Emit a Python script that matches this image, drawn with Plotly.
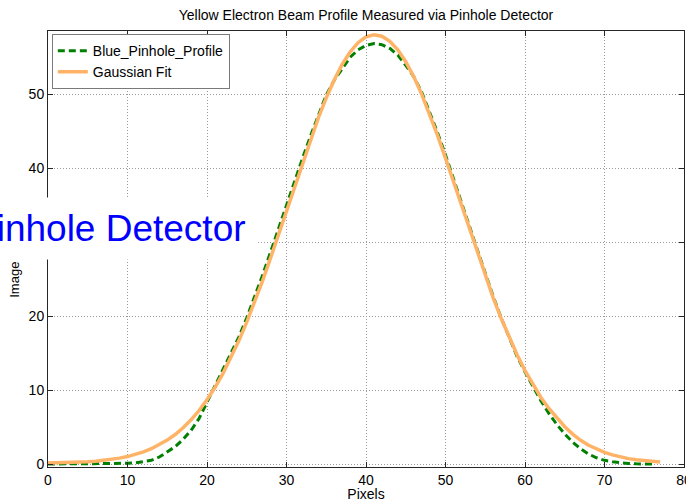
import plotly.graph_objects as go

# ---- data ----
pixels_fit = list(range(0, 78))
gauss_fit = [0.19, 0.21, 0.23, 0.27, 0.31, 0.37, 0.44, 0.55, 0.68, 0.85,
             1.06, 1.34, 1.69, 2.12, 2.64, 3.28, 4.04, 4.95, 6.02, 7.28,
             8.74, 10.39, 12.27, 14.37, 16.69, 19.21, 21.94, 24.84, 27.90, 31.06,
             34.29, 37.54, 40.75, 43.86, 46.80, 49.52, 51.94, 54.03, 55.72, 56.97,
             57.75, 58.05, 57.85, 57.16, 56.00, 54.40, 52.39, 50.03, 47.36, 44.46,
             41.38, 38.19, 34.95, 31.71, 28.52, 25.45, 22.51, 19.74, 17.17, 14.82,
             12.67, 10.76, 9.05, 7.56, 6.26, 5.10, 4.10, 3.25, 2.58, 2.05,
             1.62, 1.28, 1.00, 0.78, 0.62, 0.49, 0.40, 0.33]

pixels_meas = list(range(0, 77))
blue_profile = [0.05, 0.05, 0.05, 0.05, 0.05, 0.05, 0.05, 0.08, 0.10, 0.12,
                0.15, 0.20, 0.35, 0.55, 1.00, 1.70, 2.40, 3.40, 4.60, 6.20,
                8.40, 10.50, 12.60, 14.80, 17.20, 19.80, 22.60, 25.60, 28.70, 31.90,
                35.10, 38.30, 41.30, 44.30, 47.20, 49.90, 51.90, 53.50, 55.00, 56.00,
                56.60, 56.85, 56.70, 56.20, 55.30, 53.90, 52.40, 50.30, 47.60, 44.80,
                41.80, 38.70, 35.50, 32.20, 29.00, 25.80, 22.70, 19.80, 17.10, 14.60,
                12.50, 10.50, 8.60, 6.90, 5.40, 4.10, 3.00, 2.10, 1.40, 0.90,
                0.55, 0.35, 0.20, 0.12, 0.08, 0.05, 0.05]

x_ticks = [0, 10, 20, 30, 40, 50, 60, 70, 80]
y_ticks = [0, 10, 20, 30, 40, 50]

title_text = "Yellow Electron Beam Profile Measured via Pinhole Detector"
overlay_text = "Pinhole Detector"

FONT = "Liberation Sans, Arial, Helvetica, sans-serif"
FS = 14

fig = go.Figure()
fig.add_trace(go.Scatter(
    x=pixels_meas, y=blue_profile, mode="lines", name="Blue_Pinhole_Profile",
    line=dict(color="#008000", width=3, dash="7px,4px")))
fig.add_trace(go.Scatter(
    x=pixels_fit, y=gauss_fit, mode="lines", name="Gaussian Fit",
    line=dict(color="#FFB366", width=3.5)))

axis_common = dict(
    showline=True, linecolor="#262626", linewidth=1, mirror="ticks",
    ticks="inside", ticklen=5, tickcolor="#262626",
    showgrid=True, gridcolor="#9a9a9a", gridwidth=1, griddash="1px,2px",
    zeroline=False, tickfont=dict(family=FONT, size=FS, color="#000"),
    ticklabeloverflow="allow",
)

fig.update_layout(
    width=686, height=502,
    margin=dict(l=48, r=2, t=31, b=35),
    paper_bgcolor="white", plot_bgcolor="white",
    font=dict(family=FONT, size=FS, color="#000"),
    title=dict(text=title_text, x=(48 + 684) / 2 / 686, xanchor="center",
               y=1 - 15 / 502, yanchor="middle", font=dict(size=FS)),
    xaxis=dict(range=[0, 80], tickvals=x_ticks, ticktext=[str(v) for v in x_ticks],
               title=dict(text="Pixels", standoff=3, font=dict(size=FS)),
               automargin=False, **axis_common),
    yaxis=dict(range=[-0.35, 58.55], tickvals=y_ticks, ticktext=[str(v) for v in y_ticks],
               title=dict(text="Image Projection", standoff=6, font=dict(size=13)),
               automargin=False, **axis_common),
    legend=dict(x=0.006, y=0.993, xanchor="left", yanchor="top",
                bgcolor="white", bordercolor="#7a7a7a", borderwidth=1,
                font=dict(family=FONT, size=FS), itemwidth=30,
                tracegroupgap=0),
    showlegend=True,
)

fig.add_annotation(
    text=overlay_text, xref="paper", yref="paper",
    x=(257 - 48) / 636, y=(467 - 228.5) / 436, xanchor="right", yanchor="middle",
    showarrow=False, bgcolor="white", borderpad=10,
    font=dict(family=FONT, size=37, color="#0000FF"),
)

fig.write_html("out.html")
